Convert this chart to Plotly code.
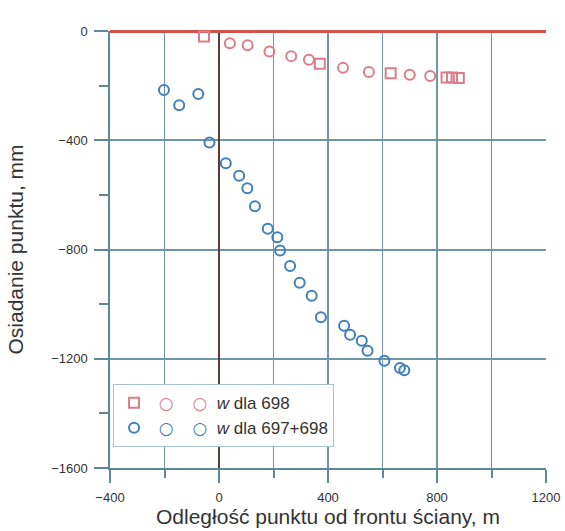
import plotly.graph_objects as go

# w dla 698 (red) - circles and squares
red_circ_x = [-105, 40, 105, 185, 265, 330, 455, 550, 700, 775]
red_circ_y = [8, -45, -52, -75, -92, -105, -135, -150, -160, -165]
red_sq_x = [-55, 370, 630, 835, 855, 880]
red_sq_y = [-20, -120, -155, -170, -170, -172]

# w dla 697+698 (blue)
blue_x = [-202, -146, -76, -35, 25, 74, 104, 132, 179, 214, 224, 261, 296,
          340, 374, 459, 481, 524, 545, 607, 664, 680]
blue_y = [-216, -272, -231, -408, -484, -530, -576, -642, -724, -755, -804,
          -860, -922, -969, -1048, -1079, -1112, -1134, -1171, -1207, -1234, -1242]

x_ticks = [-400, 0, 400, 800, 1200]
y_ticks = [0, -400, -800, -1200, -1600]

def lab(v):
    return ("\u2212" + str(-v)) if v < 0 else str(v)

RED = "#dd7c88"
BLUE = "#3f7fc0"

def legend_text(color, label):
    ring = ('<span style="color:%s;font-size:17px;font-family:DejaVu Sans">'
            '<b>\u25cb</b></span>') % color
    return " " + ring + "    " + ring + "  " + label

fig = go.Figure()

def mk(color, symbol):
    return dict(symbol=symbol, size=10, color=color,
                line=dict(color=color, width=2))

fig.add_trace(go.Scatter(x=red_circ_x, y=red_circ_y, mode="markers",
                         name="w dla 698", showlegend=False, legendgroup="r",
                         marker=mk(RED, "circle-open"), cliponaxis=False))
fig.add_trace(go.Scatter(x=red_sq_x, y=red_sq_y, mode="markers",
                         name=legend_text(RED, "<i>w</i> dla 698"), legendgroup="r",
                         marker=mk(RED, "square-open"), cliponaxis=False))
fig.add_trace(go.Scatter(x=blue_x, y=blue_y, mode="markers",
                         name=legend_text(BLUE, "<i>w</i> dla 697+698"), legendgroup="b",
                         marker=mk(BLUE, "circle-open"), cliponaxis=False))

AX = "#5d8898"
GRID = "#6f95a6"
fig.update_layout(
    width=565, height=531,
    margin=dict(l=110, r=19, t=31, b=63),
    paper_bgcolor="white", plot_bgcolor="white",
    font=dict(family="Liberation Sans, Arial", size=13, color="#333"),
    showlegend=True,
    legend=dict(orientation="v", traceorder="normal", x=0.007, y=0.192,
                xanchor="left", yanchor="top", bgcolor="white",
                bordercolor="#a8c4d4", borderwidth=1,
                font=dict(size=17, color="#333"), itemwidth=30,
                tracegroupgap=0),
    xaxis=dict(range=[-400, 1200], tickvals=x_ticks, ticktext=[lab(v) for v in x_ticks],
               automargin=False, layer="below traces",
               showgrid=True, gridcolor=GRID, gridwidth=1.5,
               zeroline=True, zerolinecolor="#5a3c34", zerolinewidth=2,
               showline=True, linecolor=AX, linewidth=1.5,
               ticks="outside", ticklen=13, tickcolor=AX, tickwidth=1.5,
               ticklabelstandoff=4,
               minor=dict(dtick=200, tick0=0, showgrid=True, gridcolor=GRID, gridwidth=1.3,
                          ticks="outside", ticklen=8, tickcolor=AX),
               title=dict(text="Odległość punktu od frontu ściany, m", font=dict(size=21, color="#333"),
                          standoff=3)),
    yaxis=dict(range=[-1600, 0], tickvals=y_ticks, ticktext=[lab(v) for v in y_ticks],
               automargin=False, layer="below traces",
               showgrid=True, gridcolor=GRID, gridwidth=1.5,
               zeroline=True, zerolinecolor="#d0524c", zerolinewidth=3,
               showline=True, linecolor=AX, linewidth=1.5,
               ticks="outside", ticklen=14, tickcolor=AX, tickwidth=1.5,
               ticklabelstandoff=4,
               minor=dict(dtick=200, tick0=0, showgrid=False,
                          ticks="outside", ticklen=9, tickcolor=AX),
               title=dict(text="Osiadanie punktu, mm", font=dict(size=21, color="#333"),
                          standoff=22)),
)

fig.write_html("out.html")
